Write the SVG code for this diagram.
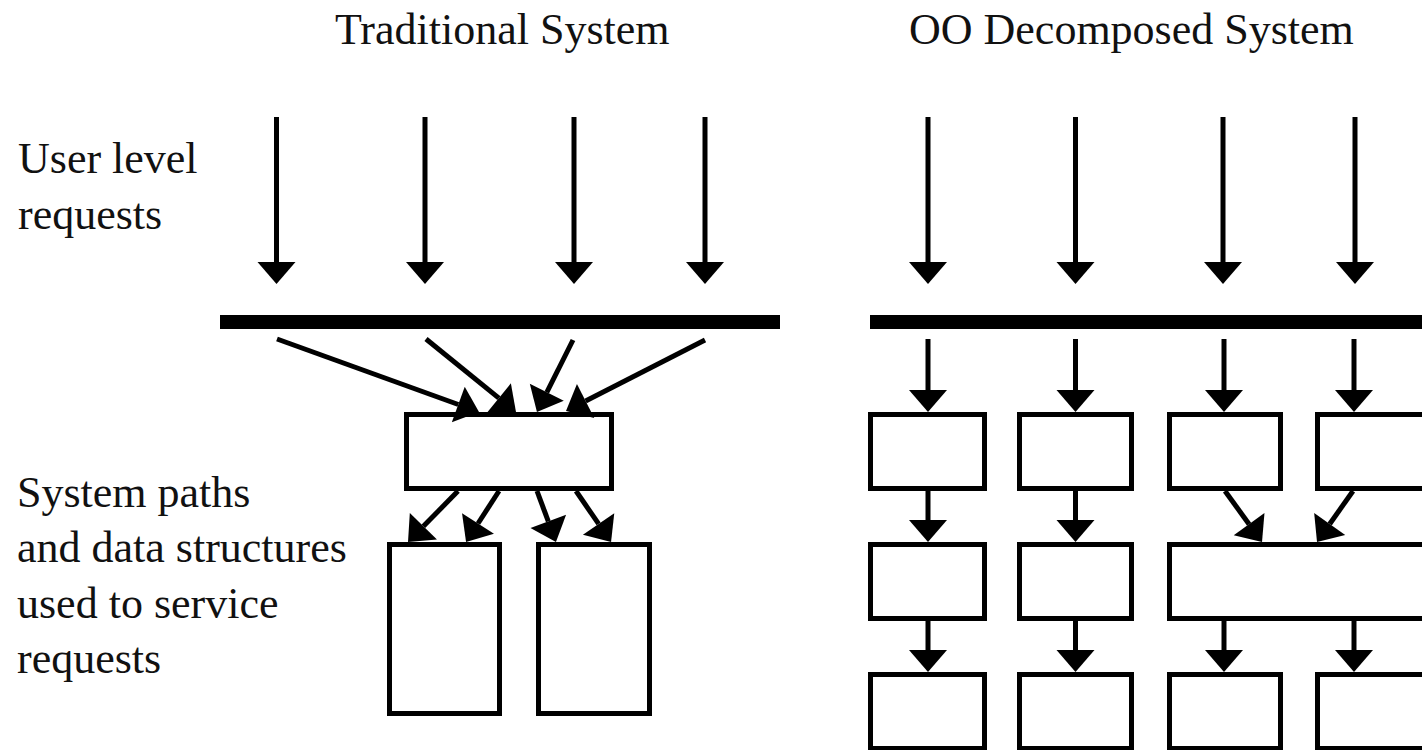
<svg xmlns="http://www.w3.org/2000/svg" width="1422" height="750" viewBox="0 0 1422 750">
  <style>
    .lbl { font-size: 44px; fill: #111; }
    .box { fill: #fff; stroke: #000; stroke-width: 5; }
    .bar { fill: #000; }
    .edge { fill: none; stroke: #000; stroke-width: 5; marker-end: url(#head); }
  </style>
  <defs>
    <!-- filled triangular head; base sits at the line end, tip 22px ahead -->
    <marker id="head" markerUnits="userSpaceOnUse" markerWidth="22" markerHeight="38" refX="0" refY="19" orient="auto" overflow="visible">
      <path d="M0,0 L22,19 L0,38 Z" fill="#000"/>
    </marker>
  </defs>

  <rect width="1422" height="750" fill="#fff"/>

  <!-- headings and side labels -->
  <g id="labels" font-family="'Liberation Serif', 'DejaVu Serif', serif">
    <text class="lbl" x="335" y="44">Traditional System</text>
    <text class="lbl" x="909" y="44">OO Decomposed System</text>
    <text class="lbl" x="18" y="173">User level</text>
    <text class="lbl" x="18" y="229">requests</text>
    <text class="lbl" x="17" y="507">System paths</text>
    <text class="lbl" x="17" y="562">and data structures</text>
    <text class="lbl" x="17" y="618">used to service</text>
    <text class="lbl" x="17" y="673">requests</text>
  </g>

  <!-- traditional system -->
  <g id="trad-bar"><rect class="bar" x="220" y="315" width="560" height="14"/></g>
  <g id="trad-core"><rect class="box" x="406.5" y="414.5" width="205" height="74"/></g>
  <g id="trad-left"><rect class="box" x="389.5" y="544.5" width="110" height="169"/></g>
  <g id="trad-right"><rect class="box" x="538.5" y="544.5" width="111" height="169"/></g>

  <!-- object-oriented decomposed system -->
  <g id="oo-bar"><rect class="bar" x="870" y="315" width="560" height="14"/></g>
  <g id="oo-r1c1"><rect class="box" x="870.5" y="414.5" width="114" height="74"/></g>
  <g id="oo-r1c2"><rect class="box" x="1019.5" y="414.5" width="112" height="74"/></g>
  <g id="oo-r1c3"><rect class="box" x="1169.5" y="414.5" width="111" height="74"/></g>
  <g id="oo-r1c4"><rect class="box" x="1317.5" y="414.5" width="120" height="74"/></g>
  <g id="oo-r2c1"><rect class="box" x="870.5" y="544.5" width="114" height="74"/></g>
  <g id="oo-r2c2"><rect class="box" x="1019.5" y="544.5" width="112" height="74"/></g>
  <g id="oo-r2shared"><rect class="box" x="1169.5" y="544.5" width="270" height="74"/></g>
  <g id="oo-r3c1"><rect class="box" x="870.5" y="674.5" width="114" height="74"/></g>
  <g id="oo-r3c2"><rect class="box" x="1019.5" y="674.5" width="112" height="74"/></g>
  <g id="oo-r3c3"><rect class="box" x="1169.5" y="674.5" width="111" height="74"/></g>
  <g id="oo-r3c4"><rect class="box" x="1317.5" y="674.5" width="120" height="74"/></g>

  <g id="connectors">
    <!-- user requests into the traditional layer -->
    <path class="edge" d="M276.5,117 V262"/>
    <path class="edge" d="M425,117 V262"/>
    <path class="edge" d="M574,117 V262"/>
    <path class="edge" d="M705,117 V262"/>
    <!-- user requests into the OO layer -->
    <path class="edge" d="M928,117 V262"/>
    <path class="edge" d="M1075.5,117 V262"/>
    <path class="edge" d="M1223,117 V262"/>
    <path class="edge" d="M1355,117 V262"/>

    <!-- traditional: everything funnels into one path -->
    <path class="edge" d="M277,339 L458.3,404.5"/>
    <path class="edge" d="M426,339 L498.9,398.1"/>
    <path class="edge" d="M573,340 L546.8,392.3"/>
    <path class="edge" d="M705,340 L585.6,401"/>
    <path class="edge" d="M458,491 L423.4,526.3"/>
    <path class="edge" d="M499,491 L478,523.5"/>
    <path class="edge" d="M537,491 L548.3,521.4"/>
    <path class="edge" d="M576,491 L598.6,523.9"/>

    <!-- OO: one path per request -->
    <path class="edge" d="M928,339 V390"/>
    <path class="edge" d="M1075.5,339 V390"/>
    <path class="edge" d="M1224,339 V390"/>
    <path class="edge" d="M1354,339 V390"/>
    <path class="edge" d="M928,491 V520"/>
    <path class="edge" d="M1075.5,491 V520"/>
    <path class="edge" d="M1225,491 L1249.1,524.2"/>
    <path class="edge" d="M1353,491 L1329.7,524"/>
    <path class="edge" d="M928,621 V650"/>
    <path class="edge" d="M1075.5,621 V650"/>
    <path class="edge" d="M1224,621 V650"/>
    <path class="edge" d="M1354,621 V650"/>
  </g>
</svg>
